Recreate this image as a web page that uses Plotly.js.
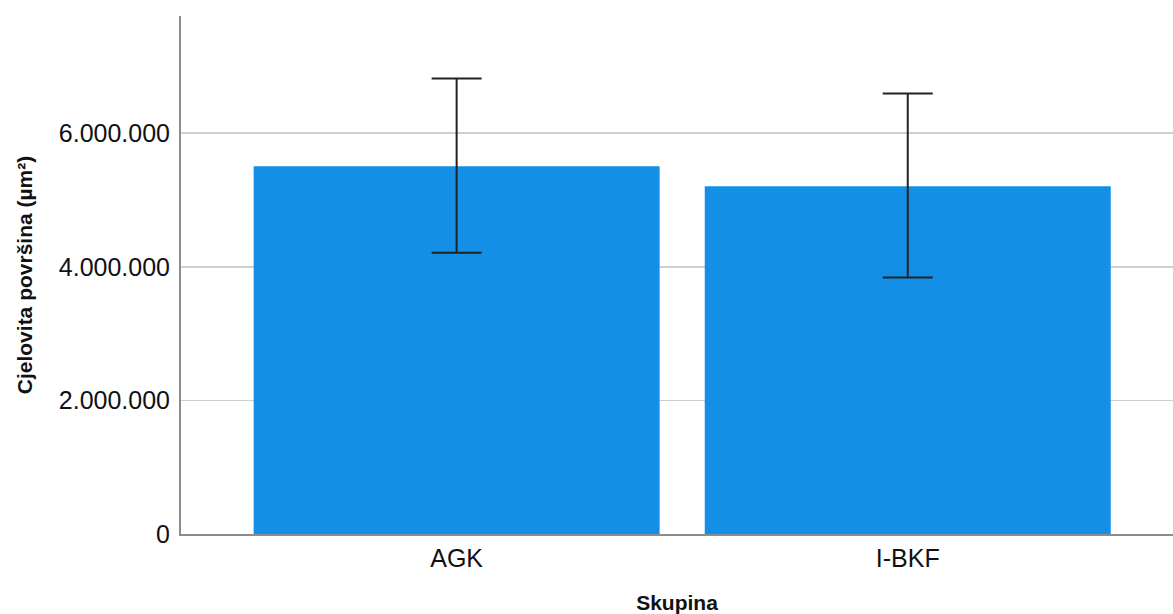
<!DOCTYPE html>
<html>
<head>
<meta charset="utf-8">
<script src="https://cdn.plot.ly/plotly-3.0.1.min.js"></script>
<style>html,body{margin:0;padding:0;background:#fff;}#chart{width:1173px;height:614px;}</style>
</head>
<body>
<div id="chart"></div>
<script>
const categories = ["AGK", "I-BKF"];
const means = [5505000, 5206000];
const errUpper = [1312000, 1386000];
const errLower = [1297000, 1366000];
const yTickVals = [0, 2000000, 4000000, 6000000];
const yTitle = "Cjelovita površina (µm²)";
const xTitle = "Skupina";

const trace = {
  type: "bar",
  x: categories,
  y: means,
  marker: { color: "#1390e6", line: { width: 0 } },
  error_y: {
    type: "data",
    symmetric: false,
    array: errUpper,
    arrayminus: errLower,
    color: "#222222",
    thickness: 2,
    width: 25
  },
  hoverinfo: "skip"
};

const layout = {
  width: 1173,
  height: 614,
  margin: { l: 181, r: 0, t: 16, b: 80 },
  paper_bgcolor: "#ffffff",
  plot_bgcolor: "#ffffff",
  bargap: 0.1,
  showlegend: false,
  separators: ",.",
  font: { family: "Arial, 'Liberation Sans', sans-serif", color: "#111111" },
  xaxis: {
    type: "category",
    range: [-0.611, 1.588],
    showgrid: false,
    zeroline: false,
    showline: true,
    linecolor: "#8c8c8c",
    linewidth: 2,
    ticks: "outside",
    ticklen: 1,
    tickcolor: "rgba(0,0,0,0)",
    tickfont: { size: 25, color: "#111111" },
    title: { text: xTitle, font: { size: 21, color: "#111111", weight: "bold" }, standoff: 25 },
    automargin: false
  },
  yaxis: {
    range: [0, 7753000],
    tickvals: yTickVals,
    tickformat: ",d",
    showgrid: true,
    gridcolor: "#cfcfcf",
    gridwidth: 1.5,
    zeroline: false,
    showline: true,
    linecolor: "#8c8c8c",
    linewidth: 2,
    ticks: "outside",
    ticklen: 4,
    tickcolor: "rgba(0,0,0,0)",
    tickfont: { size: 25, color: "#111111" },
    title: { text: yTitle, font: { size: 21, color: "#111111", weight: "bold" }, standoff: 20 },
    automargin: false
  }
};

Plotly.newPlot("chart", [trace], layout, { displayModeBar: false, staticPlot: true });
</script>
</body>
</html>
